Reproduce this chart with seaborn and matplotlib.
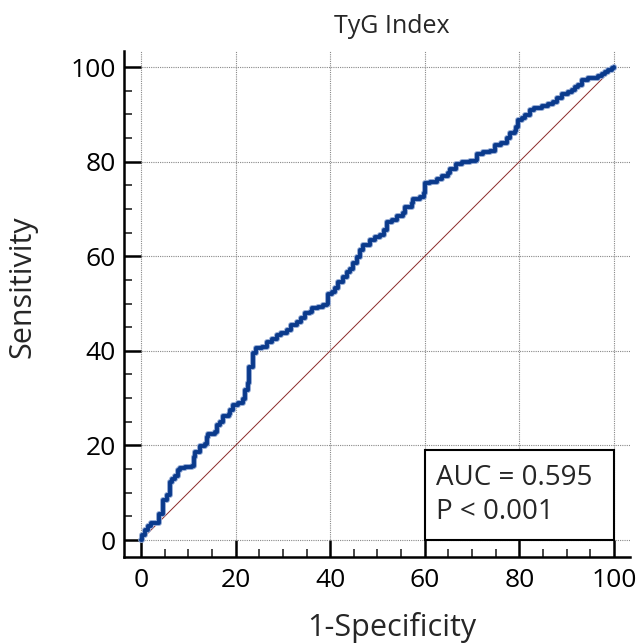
import matplotlib
matplotlib.use("Agg")
import matplotlib.pyplot as plt
import seaborn as sns
import pandas as pd
from matplotlib.patches import Rectangle
from matplotlib.ticker import MultipleLocator

# ROC curve points (1-Specificity, Sensitivity)
fpr = [0, 0.3, 0.8, 1.4, 2.1, 3.5, 3.8, 4.4, 4.7, 5.4, 6.1, 6.5, 7.2, 7.9, 8.2, 9.3,
       10.7, 11.1, 11.4, 12.5, 13.5, 13.9, 14.2, 15.6, 16.0, 16.7, 17.4, 18.5, 18.8,
       19.5, 20.6, 21.6, 22.0, 22.7, 22.9, 23.6, 23.7, 24.4, 25.5, 26.6, 27.6, 28.7,
       29.7, 30.8, 31.8, 32.9, 33.9, 34.6, 35.7, 36.1, 37.5, 38.5, 39.3, 39.6, 40.3,
       41.0, 41.7, 42.8, 43.5, 44.2, 44.9, 45.6, 46.3, 47.0, 48.4, 49.5, 50.5, 51.3,
       52.0, 53.0, 54.1, 55.5, 55.9, 57.2, 57.6, 59.0, 59.8, 60.0, 61.1, 62.5, 63.6,
       65.0, 65.3, 66.6, 67.8, 69.5, 70.8, 71.0, 72.4, 73.8, 74.8, 76.2, 77.3, 78.0,
       79.0, 79.4, 79.8, 80.5, 81.2, 82.2, 83.2, 84.7, 86.1, 87.2, 87.9, 89.0, 90.3,
       91.1, 91.8, 92.5, 93.2, 94.6, 96.0, 96.7, 97.4, 98.1, 98.8, 99.5, 100]
tpr = [0, 1.0, 2.1, 3.0, 3.5, 3.5, 5.5, 5.5, 8.5, 9.5, 12.3, 13.0, 13.5, 14.8, 15.2, 15.4,
       15.6, 17.6, 18.7, 19.9, 20.4, 21.8, 22.5, 22.9, 24.3, 25.0, 26.2, 26.6, 27.5,
       28.5, 28.9, 29.8, 31.7, 33.1, 36.6, 37.0, 39.5, 40.5, 40.9, 41.9, 42.6, 43.3,
       43.7, 44.4, 45.5, 46.2, 46.9, 47.9, 48.3, 49.0, 49.3, 49.7, 50.0, 52.1, 52.5,
       53.2, 54.6, 55.7, 56.7, 57.4, 58.5, 59.9, 61.3, 62.3, 63.4, 64.1, 64.5, 65.5,
       67.3, 67.7, 68.5, 69.1, 70.5, 71.2, 72.2, 72.6, 73.3, 75.4, 75.8, 76.3, 77.0,
       77.5, 78.4, 79.5, 80.0, 80.2, 80.3, 81.7, 82.1, 82.3, 83.5, 83.9, 85.0, 86.0,
       86.5, 87.4, 88.8, 89.3, 89.9, 90.9, 91.4, 91.8, 92.1, 92.7, 93.5, 94.2, 94.8,
       95.1, 95.8, 96.3, 97.2, 97.6, 97.7, 98.2, 98.5, 98.9, 99.4, 99.8, 100]
ref_line = [0, 100]

title = "TyG Index"
auc_text = "AUC = 0.595\nP < 0.001"

sns.set_style("white")
plt.rcParams['font.family'] = ['Open Sans', 'DejaVu Sans']

df = pd.DataFrame({"fpr": fpr, "tpr": tpr})

fig = plt.figure(figsize=(6.38, 6.43), dpi=100)
ax = fig.add_axes([0.1944, 0.1337, 0.793, 0.787])

# reference diagonal
sns.lineplot(x=ref_line, y=ref_line, ax=ax, color="#8b2a2a", linewidth=0.7, zorder=3)

# ROC step curve with light halo
sns.lineplot(data=df, x="fpr", y="tpr", ax=ax, estimator=None, sort=False,
             drawstyle="steps-post", color="#8fa6d2", linewidth=4.2, zorder=4)
sns.lineplot(data=df, x="fpr", y="tpr", ax=ax, estimator=None, sort=False,
             drawstyle="steps-post", color="#0a3a8c", linewidth=2.8, zorder=5)

ax.set_xlim(-3.6, 103.4)
ax.set_ylim(-3.6, 103.4)
ax.xaxis.set_major_locator(MultipleLocator(20))
ax.yaxis.set_major_locator(MultipleLocator(20))
ax.xaxis.set_minor_locator(MultipleLocator(5))
ax.yaxis.set_minor_locator(MultipleLocator(5))

ax.grid(True, which="major", linestyle=(0, (1, 1)), color="#888888", linewidth=0.8)
ax.set_axisbelow(True)

for side in ["top", "right"]:
    ax.spines[side].set_visible(False)
for side in ["left", "bottom"]:
    ax.spines[side].set_linewidth(1.8)
    ax.spines[side].set_color("black")

ax.tick_params(which="major", direction="in", length=12, width=1.8, labelsize=19,
               left=True, bottom=True, colors="black")
ax.tick_params(axis="x", which="major", pad=8)
ax.tick_params(axis="y", which="major", pad=6)
ax.tick_params(which="minor", direction="in", length=6, width=1.2,
               left=True, bottom=True)

# result box
ax.add_patch(Rectangle((60, 0), 40, 19, facecolor="white", edgecolor="black",
                       linewidth=1.5, zorder=6))
ax.text(62.3, 9.5, auc_text, fontsize=20, va="center", ha="left",
        linespacing=1.3, zorder=7)

ax.set_title(title, fontsize=18, pad=13, x=0.53)
ax.set_xlabel("1-Specificity", fontsize=22)
ax.set_ylabel("Sensitivity", fontsize=22)
ax.xaxis.set_label_coords(0.53, -0.108)
ax.yaxis.set_label_coords(-0.172, 0.535)

fig.savefig("out.png", dpi=100)
